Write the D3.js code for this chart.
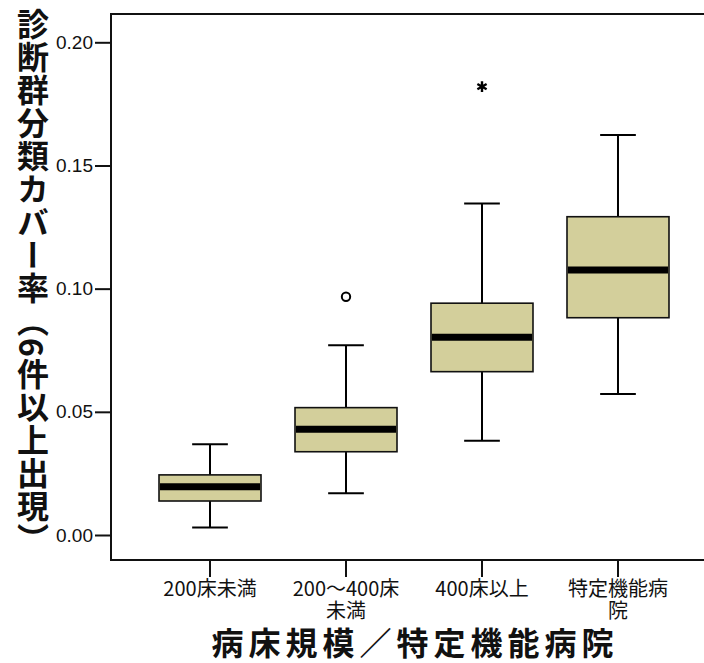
<!DOCTYPE html>
<html>
<head>
<meta charset="utf-8">
<script src="https://cdn.jsdelivr.net/npm/d3@7"></script>
<style>
  body { margin: 0; background: #fff; }
  svg { display: block; }
</style>
</head>
<body>
<div id="chart"></div>
<script>
(function() {
  var width = 704,
    height = 663;

  // categories and the wrapped tick labels
  var categories = ["200床未満", "200～400床未満", "400床以上", "特定機能病院"];
  var tickLines = [["200床未満"], ["200～400床", "未満"], ["400床以上"], ["特定機能病", "院"]];

  // box plot stats
  var whiskerLow  = [0.0030, 0.0169, 0.0383, 0.0572];
  var q1          = [0.0138, 0.0338, 0.0663, 0.0882];
  var median      = [0.0196, 0.0429, 0.0803, 0.1076];
  var q3          = [0.0244, 0.0517, 0.0941, 0.1292];
  var whiskerHigh = [0.0368, 0.0770, 0.1346, 0.1624];

  // outliers (circle) and extremes (star)
  var outlierCats   = ["200～400床未満", "400床以上"];
  var outlierValues = [0.0967, 0.182];
  var outlierKinds  = ["outlier", "extreme"];

  var yTicks = [0, 0.05, 0.10, 0.15, 0.20];

  var plot = { left: 111, top: 14, right: 717, bottom: 560 };

  var svg = d3.select("#chart")
    .append("svg")
    .attr("width", width)
    .attr("height", height);

  var x = d3.scaleBand()
    .domain(categories)
    .range([plot.left, plot.right])
    .paddingInner(0)
    .paddingOuter(0.228);

  var y = d3.scaleLinear()
    .domain([0, 0.2])
    .range([535, 42.3]);

  var boxes = categories.map(function(c, i) {
    return { cat: c, lo: whiskerLow[i], q1: q1[i], med: median[i], q3: q3[i], hi: whiskerHigh[i] };
  });

  var boxW = x.bandwidth() * 0.75,
    capW = boxW * 0.35;

  // frame
  svg.append("rect")
    .attr("x", plot.left)
    .attr("y", plot.top)
    .attr("width", plot.right - plot.left)
    .attr("height", plot.bottom - plot.top)
    .attr("fill", "none")
    .attr("stroke", "#111")
    .attr("stroke-width", 2);

  // y axis
  var yAxis = svg.append("g")
    .attr("transform", "translate(" + plot.left + ",0)")
    .call(d3.axisLeft(y).tickValues(yTicks).tickFormat(d3.format(".2f")).tickSize(16).tickPadding(2));
  yAxis.select(".domain").remove();
  yAxis.selectAll("line").attr("stroke", "#111").attr("stroke-width", 2);
  yAxis.selectAll("text")
    .attr("font-family", "'Liberation Sans', Arial, sans-serif")
    .attr("font-size", 19)
    .attr("fill", "#111");

  // x axis
  var xAxis = svg.append("g")
    .attr("transform", "translate(0," + plot.bottom + ")")
    .call(d3.axisBottom(x).tickSize(17).tickFormat(""));
  xAxis.select(".domain").remove();
  xAxis.selectAll("line").attr("stroke", "#111").attr("stroke-width", 2);

  svg.selectAll(".xlabel")
    .data(categories)
    .enter().append("text")
    .attr("class", "xlabel")
    .attr("x", function(d) { return x(d) + x.bandwidth() / 2; })
    .attr("y", 596)
    .attr("text-anchor", "middle")
    .attr("font-family", "'Noto Sans CJK JP', sans-serif")
    .attr("font-size", 20)
    .attr("fill", "#111")
    .selectAll("tspan")
    .data(function(d, i) { return tickLines[i]; })
    .enter().append("tspan")
    .attr("x", function() { var p = d3.select(this.parentNode).datum(); return x(p) + x.bandwidth() / 2; })
    .attr("dy", function(d, i) { return i === 0 ? 0 : 22; })
    .text(function(d) { return d; });

  // boxes
  var g = svg.selectAll(".box")
    .data(boxes)
    .enter().append("g")
    .attr("class", "box")
    .attr("transform", function(d) { return "translate(" + (x(d.cat) + x.bandwidth() / 2) + ",0)"; });

  g.append("line")
    .attr("x1", 0).attr("x2", 0)
    .attr("y1", function(d) { return y(d.hi); })
    .attr("y2", function(d) { return y(d.lo); })
    .attr("stroke", "#000")
    .attr("stroke-width", 2);

  g.selectAll(".cap")
    .data(function(d) { return [d.lo, d.hi]; })
    .enter().append("line")
    .attr("class", "cap")
    .attr("x1", -capW / 2).attr("x2", capW / 2)
    .attr("y1", function(v) { return y(v); })
    .attr("y2", function(v) { return y(v); })
    .attr("stroke", "#000")
    .attr("stroke-width", 2);

  g.append("rect")
    .attr("x", -boxW / 2)
    .attr("width", boxW)
    .attr("y", function(d) { return y(d.q3); })
    .attr("height", function(d) { return y(d.q1) - y(d.q3); })
    .attr("fill", "#d3cf9b")
    .attr("stroke", "#111")
    .attr("stroke-width", 1.6);

  g.append("line")
    .attr("x1", -boxW / 2 + 1).attr("x2", boxW / 2 - 1)
    .attr("y1", function(d) { return y(d.med); })
    .attr("y2", function(d) { return y(d.med); })
    .attr("stroke", "#000")
    .attr("stroke-width", 7);

  // outliers
  var outliers = outlierCats.map(function(c, i) {
    return { cat: c, value: outlierValues[i], kind: outlierKinds[i] };
  });

  svg.selectAll(".outlier")
    .data(outliers)
    .enter().append("path")
    .attr("class", "outlier")
    .attr("transform", function(d) { return "translate(" + (x(d.cat) + x.bandwidth() / 2) + "," + y(d.value) + ")"; })
    .attr("d", function(d) {
      return d.kind === "extreme" ? d3.symbol(d3.symbolAsterisk, 80)() : d3.symbol(d3.symbolCircle, 55)();
    })
    .attr("fill", "none")
    .attr("stroke", "#000")
    .attr("stroke-width", function(d) { return d.kind === "extreme" ? 2.4 : 2; });

  // axis titles
  svg.append("text")
    .attr("x", 415)
    .attr("y", 641)
    .attr("text-anchor", "middle")
    .attr("dominant-baseline", "central")
    .attr("font-family", "'Noto Sans CJK JP', sans-serif")
    .attr("font-weight", "bold")
    .attr("font-size", 32)
    .attr("letter-spacing", 5)
    .attr("fill", "#111")
    .text("病床規模／特定機能病院");

  svg.append("text")
    .attr("x", 33)
    .attr("y", 282)
    .attr("text-anchor", "middle")
    .style("writing-mode", "vertical-rl")
    .attr("font-family", "'Noto Sans CJK JP', sans-serif")
    .attr("font-weight", "bold")
    .attr("font-size", 32)
    .attr("letter-spacing", 1)
    .attr("fill", "#111")
    .text("診断群分類カバー率（6件以上出現）");
})();
</script>
</body>
</html>
